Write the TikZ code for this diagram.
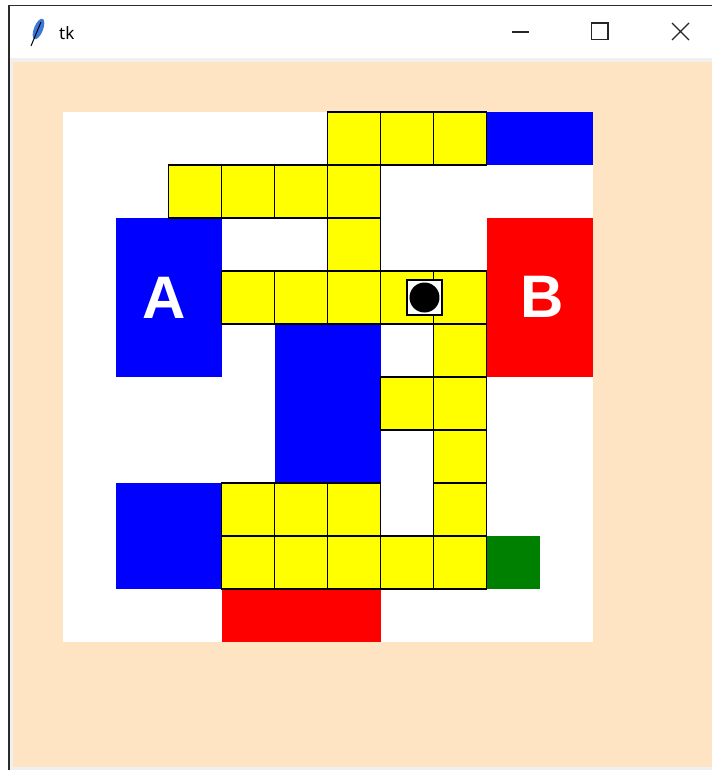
\documentclass[tikz,border=0pt]{standalone}
\usepackage{fontspec}
\setmainfont{Liberation Sans}
\newfontfamily\titlefont{Noto Sans}
\usepackage{tikz}
\usetikzlibrary{calc}
\definecolor{bisque}{HTML}{FFE4C4}
\definecolor{chromegray}{HTML}{F0F0F0}
\definecolor{framegray}{HTML}{2B2B2B}
\definecolor{cellyellow}{HTML}{FFFF00}
\definecolor{cellblue}{HTML}{0000FF}
\definecolor{cellred}{HTML}{FF0000}
\definecolor{cellgreen}{HTML}{008000}
\definecolor{featherblue}{HTML}{3C78D8}

\tikzset{
  pathcell/.style={fill=cellyellow,draw=black,line width=1.7pt},
  tag/.style={text=white,inner sep=0pt,font=\fontsize{60}{60}\selectfont\bfseries},
  winbutton/.style={draw=black!85,line width=1.2pt}
}

\begin{document}
\begin{tikzpicture}[x=1pt,y=-1pt]
  \useasboundingbox (0,0) rectangle (712,770);
  \fill[white] (0,0) rectangle (712,770);
  % window frame
  \fill[chromegray] (8,5) rectangle (712,770);
  \fill[white] (10,6) rectangle (712,58);
  \fill[bisque] (13.3,62) rectangle (712,767.3);
  \draw[framegray,line width=1.5pt] (9,770) -- (9,5.5) -- (712,5.5);
  % title bar
  \fill[featherblue,rotate around={68:(38.5,29)}] (38.5,29) ellipse (11 and 4.5);
  \draw[black,line width=1pt] (31,46) -- (41,22);
  \node[anchor=west,inner sep=0pt,font=\titlefont\fontsize{17}{17}\selectfont] (title) at (59,33) {tk};
  \draw[winbutton] (512,32) -- (529,32);
  \draw[winbutton] (591.5,23) rectangle (608,39.5);
  \draw[winbutton] (672,23) -- (689,40) (672,40) -- (689,23);
  % board
  \begin{scope}[shift={(62.5,112)},x=53pt,y=-53pt]
    \fill[white] (0,0) rectangle (10,10);
    \fill[cellblue] (8,0) rectangle (10,1);
    \fill[cellblue] (1,2) rectangle (3,5);
    \fill[cellred] (8,2) rectangle (10,5);
    \fill[cellblue] (4,4) rectangle (6,7);
    \fill[cellblue] (1,7) rectangle (3,9);
    \fill[cellred] (3,9) rectangle (6,10);
    \fill[cellgreen] (8,8) rectangle (9,9);
    \foreach \c/\r in {5/0,6/0,7/0, 2/1,3/1,4/1,5/1, 5/2,
                       3/3,4/3,5/3,6/3,7/3, 7/4, 6/5,7/5, 7/6,
                       3/7,4/7,5/7,7/7, 3/8,4/8,5/8,6/8,7/8}
      \draw[pathcell] (\c,\r) rectangle ++(1,1);
    \node[tag] (labelA) at (1.915,3.51) {A};
    \node[tag] (labelB) at (9.05,3.49) {B};
    \node[draw=black,fill=white,line width=1.5pt,minimum size=35pt,inner sep=0pt] (marker) at (6.83,3.5) {};
    \fill[black] (marker.center) circle (15pt);
  \end{scope}
\end{tikzpicture}
\end{document}
